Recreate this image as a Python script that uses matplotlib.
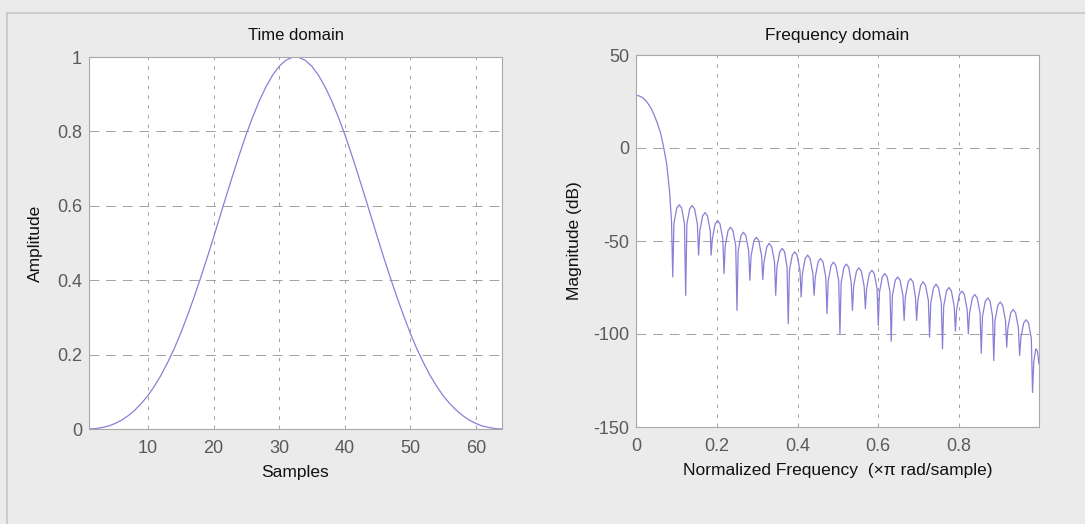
import numpy as np
import matplotlib
matplotlib.use("Agg")
import matplotlib.pyplot as plt
from matplotlib.lines import Line2D

# ---- time domain: window samples ----
SAMPLES = np.arange(1, 65)
AMPLITUDE = [
    0.000, 0.001, 0.004, 0.008, 0.015, 0.024, 0.036, 0.051, 0.069, 0.090,
    0.116, 0.145, 0.179, 0.216, 0.258, 0.304, 0.353, 0.405, 0.459, 0.515,
    0.573, 0.630, 0.686, 0.741, 0.793, 0.840, 0.883, 0.920, 0.951, 0.975,
    0.991, 0.999, 0.999, 0.991, 0.975, 0.951, 0.920, 0.883, 0.840, 0.793,
    0.741, 0.686, 0.630, 0.573, 0.515, 0.459, 0.405, 0.353, 0.304, 0.258,
    0.216, 0.179, 0.145, 0.116, 0.090, 0.069, 0.051, 0.036, 0.024, 0.015,
    0.008, 0.004, 0.001, 0.000,
]

# ---- frequency domain: magnitude (one line per lobe) ----
FREQ = [
    0.000, 0.008, 0.015, 0.023, 0.030, 0.038, 0.045, 0.053, 0.061, 0.068, 0.076, 0.083, 0.088,
    0.091, 0.094, 0.101, 0.107, 0.113, 0.120,
    0.123, 0.126, 0.133, 0.139, 0.145, 0.152,
    0.155, 0.158, 0.165, 0.171, 0.177, 0.184,
    0.186, 0.189, 0.196, 0.202, 0.208, 0.215,
    0.218, 0.221, 0.228, 0.234, 0.240, 0.247,
    0.250, 0.253, 0.260, 0.266, 0.272, 0.279,
    0.282, 0.285, 0.292, 0.298, 0.304, 0.311,
    0.314, 0.317, 0.324, 0.330, 0.336, 0.343,
    0.346, 0.349, 0.356, 0.362, 0.368, 0.374,
    0.377, 0.380, 0.387, 0.393, 0.399, 0.406,
    0.409, 0.412, 0.419, 0.425, 0.431, 0.438,
    0.441, 0.444, 0.451, 0.457, 0.463, 0.470,
    0.473, 0.476, 0.483, 0.489, 0.495, 0.502,
    0.505, 0.508, 0.515, 0.521, 0.527, 0.533,
    0.536, 0.539, 0.546, 0.552, 0.558, 0.565,
    0.568, 0.571, 0.578, 0.584, 0.590, 0.597,
    0.600, 0.603, 0.610, 0.616, 0.622, 0.629,
    0.632, 0.635, 0.642, 0.648, 0.654, 0.661,
    0.664, 0.667, 0.674, 0.680, 0.686, 0.692,
    0.695, 0.698, 0.705, 0.711, 0.717, 0.724,
    0.727, 0.730, 0.737, 0.743, 0.749, 0.756,
    0.759, 0.762, 0.769, 0.775, 0.781, 0.788,
    0.791, 0.794, 0.801, 0.807, 0.813, 0.820,
    0.823, 0.826, 0.833, 0.839, 0.845, 0.852,
    0.855, 0.858, 0.865, 0.871, 0.877, 0.883,
    0.886, 0.889, 0.896, 0.902, 0.908, 0.915,
    0.918, 0.921, 0.928, 0.934, 0.940, 0.947,
    0.950, 0.953, 0.960, 0.966, 0.972, 0.979,
    0.982, 0.985, 0.990, 0.994, 0.998,
]
MAG_DB = [
    28.3, 28.0, 27.2, 25.8, 23.8, 21.1, 17.7, 13.3, 7.9, 0.9, -8.6, -23.1, -39.5,
    -69.3, -40.5, -32.3, -30.5, -32.3, -40.5,
    -79.2, -40.9, -32.7, -30.9, -32.7, -40.9,
    -57.6, -44.7, -36.5, -34.7, -36.5, -44.7,
    -57.6, -49.0, -40.8, -39.0, -40.8, -49.0,
    -67.5, -52.6, -44.4, -42.6, -44.4, -52.6,
    -87.3, -55.3, -47.1, -45.3, -47.1, -55.3,
    -71.1, -58.0, -49.8, -48.0, -49.8, -58.0,
    -70.7, -61.3, -53.1, -51.3, -53.1, -61.3,
    -79.2, -64.0, -55.8, -54.0, -55.8, -64.0,
    -94.5, -65.8, -57.6, -55.8, -57.6, -65.8,
    -80.1, -67.6, -59.4, -57.6, -59.4, -67.6,
    -79.2, -69.4, -61.2, -59.4, -61.2, -69.4,
    -89.1, -71.4, -63.2, -61.4, -63.2, -71.4,
    -99.9, -72.4, -64.2, -62.4, -64.2, -72.4,
    -87.3, -74.4, -66.2, -64.4, -66.2, -74.4,
    -86.4, -75.7, -67.5, -65.7, -67.5, -75.7,
    -95.4, -77.5, -69.3, -67.5, -69.3, -77.5,
    -103.9, -79.3, -71.1, -69.3, -71.1, -79.3,
    -92.7, -80.2, -72.0, -70.2, -72.0, -80.2,
    -92.7, -82.0, -73.8, -72.0, -73.8, -82.0,
    -101.7, -83.2, -75.0, -73.2, -75.0, -83.2,
    -108.0, -85.0, -76.8, -75.0, -76.8, -85.0,
    -98.5, -86.9, -78.7, -76.9, -78.7, -86.9,
    -99.9, -88.8, -80.6, -78.8, -80.6, -88.8,
    -110.4, -90.6, -82.4, -80.6, -82.4, -90.6,
    -114.3, -92.8, -84.6, -82.8, -84.6, -92.8,
    -107.1, -96.8, -88.6, -86.8, -88.6, -96.8,
    -111.6, -102.3, -94.1, -92.3, -94.1, -102.3,
    -131.4, -115.0, -108.0, -109.0, -116.0,
]

LEFT_XTICKS = [10, 20, 30, 40, 50, 60]
LEFT_YTICKS = [0, 0.2, 0.4, 0.6, 0.8, 1]
LEFT_YLABELS = ["0", "0.2", "0.4", "0.6", "0.8", "1"]
RIGHT_XTICKS = [0, 0.2, 0.4, 0.6, 0.8]
RIGHT_XLABELS = ["0", "0.2", "0.4", "0.6", "0.8"]
RIGHT_YTICKS = [-150, -100, -50, 0, 50]

LINE = "#8880d6"
GRID = "#a0a0a0"
SPINE = "#a9a9a9"
TICKTXT = "#5a5a5a"
BG = "#ebebeb"

plt.rcParams["font.family"] = ["Liberation Sans", "DejaVu Sans"]
plt.rcParams["axes.unicode_minus"] = False
plt.rcParams["lines.scale_dashes"] = False

fig = plt.figure(figsize=(10.85, 5.24), dpi=100, facecolor=BG)

# panel frame (top and left edges visible)
fig.add_artist(Line2D([7 / 1085, 1.0], [1 - 13 / 524] * 2,
                      transform=fig.transFigure, color="#c6c6c6", lw=1.2))
fig.add_artist(Line2D([7 / 1085] * 2, [0.0, 1 - 13 / 524],
                      transform=fig.transFigure, color="#c6c6c6", lw=1.2))


def style(ax, xt, xl, yt, yl):
    ax.set_facecolor("white")
    ax.set_axisbelow(True)
    for s in ax.spines.values():
        s.set_color(SPINE)
        s.set_linewidth(0.8)
    ax.set_xticks(xt)
    ax.set_xticklabels(xl)
    ax.set_yticks(yt)
    ax.set_yticklabels(yl)
    ax.tick_params(direction="in", length=3, color=SPINE, labelsize=13,
                   labelcolor=TICKTXT)
    ax.tick_params(axis="x", pad=8)
    ax.tick_params(axis="y", pad=5)
    ax.xaxis.grid(True, color=GRID, lw=0.7, dashes=(2.5, 4.5))
    ax.yaxis.grid(True, color=GRID, lw=0.7, dashes=(7, 5))


# ---- left: time domain ----
ax1 = fig.add_axes([89 / 1085, 1 - 429 / 524, 413 / 1085, 372 / 524])
ax1.plot(SAMPLES, AMPLITUDE, color=LINE, lw=0.9)
ax1.set_xlim(1, 64)
ax1.set_ylim(0, 1)
style(ax1, LEFT_XTICKS, [str(t) for t in LEFT_XTICKS], LEFT_YTICKS, LEFT_YLABELS)
ax1.set_title("Time domain", fontsize=12, color="#111111", pad=12)
ax1.set_xlabel("Samples", fontsize=12.5, color="#111111", labelpad=6)
ax1.set_ylabel("Amplitude", fontsize=12.5, color="#111111", labelpad=10)

# ---- right: frequency domain ----
ax2 = fig.add_axes([636 / 1085, 1 - 427 / 524, 403 / 1085, 372 / 524])
ax2.plot(FREQ, MAG_DB, color=LINE, lw=0.9)
ax2.set_xlim(0, 0.998)
ax2.set_ylim(-150, 50)
style(ax2, RIGHT_XTICKS, RIGHT_XLABELS, RIGHT_YTICKS,
      [str(t) for t in RIGHT_YTICKS])
ax2.set_title("Frequency domain", fontsize=12.5, color="#111111", pad=11)
ax2.set_xlabel("Normalized Frequency  (\u00d7\u03c0 rad/sample)", fontsize=12.5,
               color="#111111", labelpad=6)
ax2.set_ylabel("Magnitude (dB)", fontsize=12.5, color="#111111", labelpad=8)

fig.savefig("out.png", dpi=100, facecolor=BG)
